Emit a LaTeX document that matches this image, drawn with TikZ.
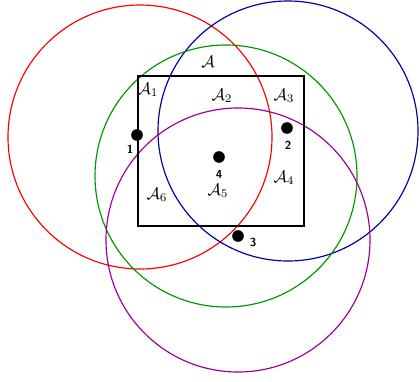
\documentclass[tikz,border=0pt]{standalone}
\usepackage{amsmath,amssymb}
\usetikzlibrary{positioning}
\definecolor{cvred}{HTML}{FF0000}
\definecolor{cvblue}{HTML}{00009E}
\definecolor{cvgreen}{HTML}{009600}
\definecolor{cvpurple}{HTML}{990099}

\begin{document}
\begin{tikzpicture}[x=0.6pt, y=-0.6pt,
    disk/.style={line width=0.7pt},
    region/.style={draw=black, line width=1pt},
    pt/.style={circle, fill=black, inner sep=0pt, minimum size=7pt},
    num/.style={font=\sffamily\bfseries\scriptsize, inner sep=1pt},
  ]
  \useasboundingbox (0,0) rectangle (420,381);

  % centres of the four disks
  \coordinate (c1) at (140,137);
  \coordinate (c2) at (288,131);
  \coordinate (c3) at (238,240);
  \coordinate (c4) at (226,176);

  % disks
  \draw[disk, cvred] (c1) circle[radius=132];
  \draw[disk, cvblue] (c2) circle[radius=130];
  \draw[disk, cvgreen] (c4) circle[radius=131];
  \draw[disk, cvpurple] (c3) circle[radius=132];

  % the region A and its parts
  \draw[region] (138,76) rectangle (304,226);
  \node (A) at (208,62) {$\mathcal{A}$};
  \node (A1) at (148,90) {$\mathcal{A}_1$};
  \node (A2) at (222,96) {$\mathcal{A}_2$};
  \node (A3) at (284,96) {$\mathcal{A}_3$};
  \node (A4) at (284,178) {$\mathcal{A}_4$};
  \node (A5) at (218,191) {$\mathcal{A}_5$};
  \node (A6) at (157,195) {$\mathcal{A}_6$};

  % points and their numbers
  \node[pt] (p1) at (137,135) {};
  \node[pt] (p2) at (287,128) {};
  \node[pt] (p3) at (238,236) {};
  \node[pt] (p4) at (219,157) {};
  \node[num] (n1) at (130,149) {1};
  \node[num] (n2) at (288,145) {2};
  \node[num] (n3) at (253,242) {3};
  \node[num] (n4) at (219,174) {4};
\end{tikzpicture}
\end{document}
